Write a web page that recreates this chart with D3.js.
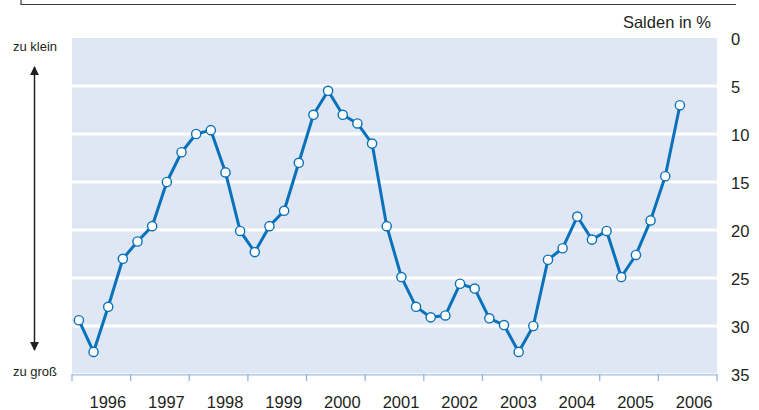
<!DOCTYPE html>
<html>
<head>
<meta charset="utf-8">
<script src="https://d3js.org/d3.v7.min.js"></script>
<style>
  body { margin: 0; background: #fff; }
  svg { display: block; }
  text { font-family: "Liberation Sans", Arial, Helvetica, sans-serif; fill: #231f20; }
</style>
</head>
<body>
<div id="chart"></div>
<script>
// years on the x axis, one label per year
var years = [1996, 1997, 1998, 1999, 2000, 2001, 2002, 2003, 2004, 2005, 2006];
// quarterly balances in %, starting 1996 Q1
var salden = [
  29.4, 32.7, 28.0, 23.0,
  21.2, 19.6, 15.0, 11.9,
  10.0,  9.6, 14.0, 20.1,
  22.3, 19.6, 18.0, 13.0,
   8.0,  5.5,  8.0,  8.9,
  11.0, 19.6, 24.9, 28.0,
  29.1, 28.9, 25.6, 26.1,
  29.2, 29.9, 32.7, 30.0,
  23.1, 21.9, 18.6, 21.0,
  20.1, 24.9, 22.6, 19.0,
  14.4,  7.0
];
var yTicks = [0, 5, 10, 15, 20, 25, 30, 35];
var unitLabel = "Salden in %";
var topLabel = "zu klein";
var bottomLabel = "zu groß";

var width = 759, height = 410;
var blue = "#0a72ba";

var svg = d3.select("#chart").append("svg")
  .attr("width", width)
  .attr("height", height);

var x = d3.scaleLinear().domain([1996, 2007]).range([72, 717]);
var y = d3.scaleLinear().domain([0, 35]).range([38, 374]);

var points = salden.map(function(v, i) {
  return { t: 1996 + (i + 0.47) / 4, v: v };
});

// frame remnant at the top
svg.append("path")
  .attr("d", "M21,0V4.5H736")
  .attr("fill", "none")
  .attr("stroke", "#3a3a3a")
  .attr("stroke-width", 1.2);

// plot background
svg.append("rect")
  .attr("x", x(1996))
  .attr("y", y(0))
  .attr("width", x(2007) - x(1996))
  .attr("height", y(35) - y(0) - 1)
  .attr("fill", "#dfe6f4");

// white grid lines
svg.append("g").selectAll("line")
  .data(yTicks.slice(1, -1))
  .enter().append("line")
  .attr("x1", x(1996)).attr("x2", x(2007))
  .attr("y1", d => y(d)).attr("y2", d => y(d))
  .attr("stroke", "#fff")
  .attr("stroke-width", 3);

// x baseline and ticks
svg.append("line")
  .attr("x1", x(1996)).attr("x2", x(2007))
  .attr("y1", y(35) + 0.8).attr("y2", y(35) + 0.8)
  .attr("stroke", "#bfd0ea")
  .attr("stroke-width", 2);

svg.append("g").selectAll("line")
  .data(years.concat([2007]))
  .enter().append("line")
  .attr("x1", d => x(d)).attr("x2", d => x(d))
  .attr("y1", y(35)).attr("y2", y(35) + 7)
  .attr("stroke", "#93b4df")
  .attr("stroke-width", 1.3);

svg.append("g").selectAll("text")
  .data(years)
  .enter().append("text")
  .attr("x", d => x(d + 0.5) + 6.5)
  .attr("y", 408)
  .attr("text-anchor", "middle")
  .style("font-size", "16.5px")
  .text(d => d);

// y labels on the right
svg.append("g").selectAll("text")
  .data(yTicks)
  .enter().append("text")
  .attr("x", 731)
  .attr("y", d => y(d))
  .attr("dy", "0.4em")
  .style("font-size", "16.5px")
  .text(d => d);

svg.append("text")
  .attr("x", 711)
  .attr("y", 28)
  .attr("text-anchor", "end")
  .style("font-size", "16.5px")
  .text(unitLabel);

// direction hint on the left
svg.append("defs").append("marker")
  .attr("id", "head")
  .attr("viewBox", "0 0 10 10")
  .attr("refX", 9).attr("refY", 5)
  .attr("markerWidth", 6).attr("markerHeight", 6)
  .attr("orient", "auto-start-reverse")
  .append("path")
  .attr("d", "M0,0L10,5L0,10z")
  .attr("fill", "#231f20");

svg.append("line")
  .attr("x1", 34.5).attr("x2", 34.5)
  .attr("y1", 67).attr("y2", 350)
  .attr("stroke", "#231f20")
  .attr("stroke-width", 1.5)
  .attr("marker-start", "url(#head)")
  .attr("marker-end", "url(#head)");

svg.append("text")
  .attr("x", 35).attr("y", 50.5)
  .attr("text-anchor", "middle")
  .style("font-size", "13px")
  .text(topLabel);

svg.append("text")
  .attr("x", 35).attr("y", 375.5)
  .attr("text-anchor", "middle")
  .style("font-size", "13px")
  .text(bottomLabel);

// the series
var line = d3.line()
  .x(d => x(d.t))
  .y(d => y(d.v));

svg.append("path")
  .datum(points)
  .attr("d", line)
  .attr("fill", "none")
  .attr("stroke", blue)
  .attr("stroke-width", 3)
  .attr("stroke-linejoin", "round");

svg.append("g").selectAll("circle")
  .data(points)
  .enter().append("circle")
  .attr("cx", d => x(d.t))
  .attr("cy", d => y(d.v))
  .attr("r", 4.6)
  .attr("fill", "#fff")
  .attr("stroke", blue)
  .attr("stroke-width", 1.4);
</script>
</body>
</html>
